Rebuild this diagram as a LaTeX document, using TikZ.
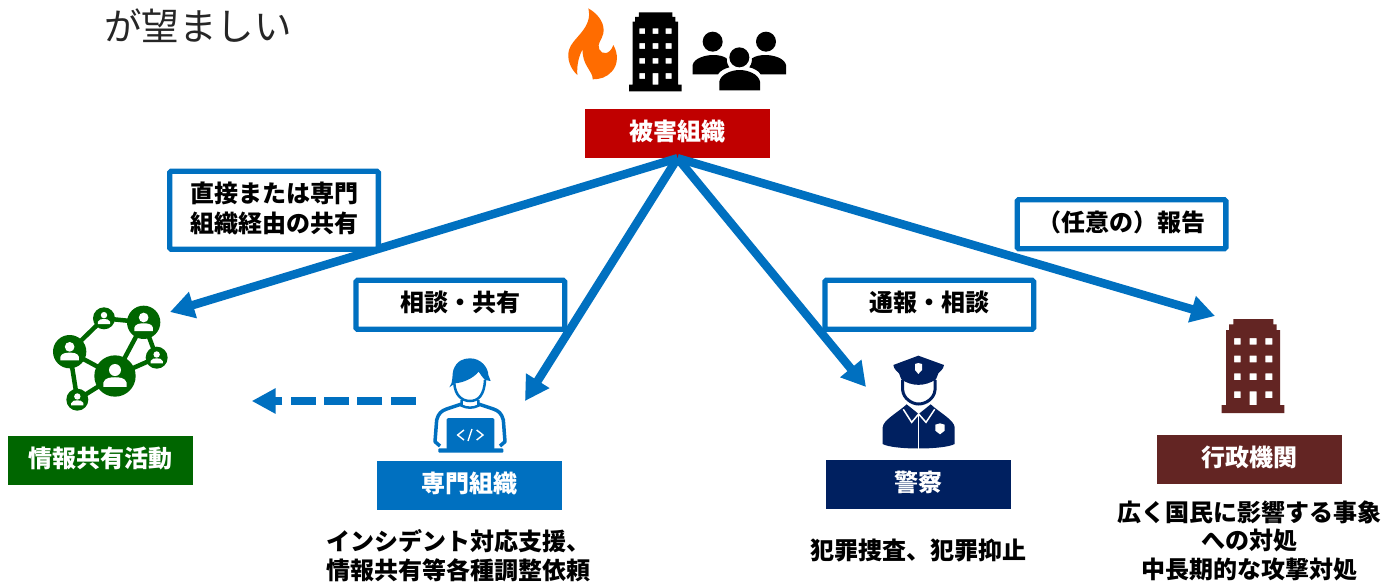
\documentclass[tikz,border=0pt]{standalone}
\usepackage{fontspec}
\setmainfont{Noto Sans CJK JP}
\usetikzlibrary{arrows.meta}
\definecolor{cblue}{RGB}{0,112,192}
\definecolor{cred}{RGB}{192,0,0}
\definecolor{cgreen}{RGB}{0,102,0}
\definecolor{cnavy}{RGB}{0,32,96}
\definecolor{cbrown}{RGB}{99,37,35}
\definecolor{corange}{RGB}{255,108,0}
\newcommand{\lift}[2][-1pt]{\raisebox{#1}[\height][\depth]{\begin{tabular}{@{}c@{}}#2\end{tabular}}}
\tikzset{
  orgbox/.style={fill=#1,text=white,minimum width=185pt,minimum height=49pt,inner sep=0pt,font=\fontsize{24}{28}\selectfont\bfseries},
  callout/.style={draw=cblue,line width=5.3pt,rounded corners=1.5pt,fill=white,minimum width=208.7pt,inner sep=0pt,align=center,text=black,font=\fontsize{24}{30}\selectfont\bfseries},
  caption/.style={inner sep=0pt,align=center,text=black,font=\fontsize{24}{28.5}\selectfont\bfseries},
  flow/.style={draw=cblue,line width=8.5pt,-{Triangle[length=24pt,width=26pt]}},
  inzoom/.style={x=0.33333pt,y=-0.33333pt}
}
% building drawn in the coordinates of a 3x crop
\newcommand{\bldgicon}[1]{%
  \fill[#1,even odd rule]
    (365,369)--(365,345)--(378,345)--(378,120)--(387,120)--(387,103)--(400,103)--(400,87)--(520,87)--(520,103)--(530,103)--(530,120)--(540,120)--(540,345)--(553,345)--(553,369)--cycle
    (402,144) rectangle (422,164) (449,144) rectangle (470,164) (496,144) rectangle (517,164)
    (402,197) rectangle (422,217) (449,197) rectangle (470,217) (496,197) rectangle (517,217)
    (402,250) rectangle (422,270) (449,250) rectangle (470,270) (496,250) rectangle (517,270)
    (402,304) rectangle (422,324) (449,304) rectangle (470,345) (496,304) rectangle (517,324);
}
\newcommand{\netperson}[3]{%
  \fill[cgreen] (#1,#2) circle [radius=#3];
  \fill[white] (#1,#2-0.29*#3) circle [radius=0.29*#3];
  \fill[white] (#1-0.56*#3,#2+0.52*#3) -- (#1-0.56*#3,#2+0.32*#3)
    .. controls (#1-0.5*#3,#2+0.08*#3) and (#1-0.2*#3,#2+0.06*#3) .. (#1,#2+0.06*#3)
    .. controls (#1+0.2*#3,#2+0.06*#3) and (#1+0.5*#3,#2+0.08*#3) .. (#1+0.56*#3,#2+0.32*#3)
    -- (#1+0.56*#3,#2+0.52*#3) -- cycle;
}
\begin{document}
\begin{tikzpicture}[x=1pt,y=-1pt]
\useasboundingbox (0,0) rectangle (1383,581);
\fill[white] (0,0) rectangle (1383,581);

% heading
\node[inner sep=0pt,text=black!85,font=\fontsize{37.5}{40}\selectfont] (head) at (198,26) {が望ましい};

% flame
\begin{scope}[shift={(550,0)},inzoom]
\fill[corange] (115,25) .. controls (150,45) and (165,75) .. (160,100)
  .. controls (156,120) and (140,130) .. (148,148)
  .. controls (155,165) and (180,165) .. (190,135)
  .. controls (205,160) and (205,195) .. (185,215)
  .. controls (170,232) and (150,238) .. (128,238)
  .. controls (130,215) and (95,195) .. (98,148)
  .. controls (85,170) and (80,200) .. (82,225)
  .. controls (60,205) and (50,175) .. (57,150)
  .. controls (65,115) and (130,85) .. (115,25) -- cycle;
\end{scope}
% building, black
\begin{scope}[shift={(526.8,-12)},x=0.2801pt,y=-0.2801pt]
\bldgicon{black}
\end{scope}
% people
\begin{scope}[shift={(550,0)},inzoom]
\fill[black] (488,125) circle [radius=30] (648,125) circle [radius=30] (568,172) circle [radius=30];
\fill[black] (428,223) -- (428,195) .. controls (432,175) and (465,165) .. (490,165)
  .. controls (505,165) and (520,168) .. (530,175) .. controls (530,190) and (535,198) .. (538,202)
  .. controls (525,205) and (510,212) .. (504,223) -- cycle;
\fill[black] (708,223) -- (708,195) .. controls (704,175) and (671,165) .. (646,165)
  .. controls (631,165) and (616,168) .. (606,175) .. controls (606,190) and (601,198) .. (598,202)
  .. controls (611,205) and (626,212) .. (632,223) -- cycle;
\fill[black] (508,271) -- (508,245) .. controls (512,222) and (545,210) .. (569,210)
  .. controls (593,210) and (626,222) .. (630,245) -- (630,271) -- cycle;
\end{scope}

% network
\begin{scope}[shift={(0,290)},inzoom]
\draw[cgreen,line width=4.5pt] (312,85)--(431,97) (312,85)--(209,185) (209,185)--(345,258)
  (209,185)--(232,329) (232,329)--(345,258) (345,258)--(431,97) (345,258)--(470,203) (431,97)--(470,203);
\netperson{345}{258}{62}
\netperson{209}{185}{50}
\netperson{431}{97}{50}
\netperson{312}{85}{33}
\netperson{470}{203}{33}
\netperson{232}{329}{33}
\end{scope}

% specialist with laptop
\begin{scope}[shift={(240,340)},inzoom]
\fill[cblue] (628,142) .. controls (640,130) and (636,100) .. (640,90)
  .. controls (650,62) and (670,55) .. (690,55)
  .. controls (725,55) and (745,85) .. (745,105) -- (752,123) -- (735,120)
  .. controls (728,112) and (722,105) .. (716,95)
  .. controls (700,115) and (670,128) .. (645,130) -- cycle;
\draw[cblue,line width=2.5pt] (643,130) .. controls (645,165) and (665,183) .. (690,183)
  .. controls (715,183) and (733,165) .. (735,120);
\draw[cblue,line width=2.5pt] (665,180) -- (665,197) .. controls (680,205) and (700,205) .. (715,197) -- (715,180);
\draw[cblue,line width=3.5pt,line join=round] (600,318) -- (585,305) -- (590,240) .. controls (595,220) and (605,212) .. (620,207) -- (665,192);
\draw[cblue,line width=3.5pt,line join=round] (780,318) -- (795,305) -- (790,240) .. controls (785,220) and (775,212) .. (760,207) -- (715,192);
\fill[cblue,rounded corners=1.5pt] (620,234) rectangle (763,330);
\fill[cblue,rounded corners=1pt] (595,325) rectangle (790,338);
\draw[white,line width=1.4pt] (672,270)--(653,285)--(672,300) (710,270)--(729,285)--(710,300) (696,267)--(684,303);
\end{scope}

% police officer
\begin{scope}[shift={(800,340)},inzoom]
\fill[cnavy] (280,75) -- (355,47) -- (432,75) .. controls (430,90) and (418,95) .. (415,100)
  -- (408,118) .. controls (375,140) and (335,140) .. (304,118) -- (297,100) .. controls (294,95) and (282,90) .. (280,75) -- cycle;
\fill[white] (345,72) -- (355,69) -- (366,72) -- (366,90) -- (355,102) -- (345,90) -- cycle;
\draw[cnavy,line width=3pt] (308,120) -- (308,150) .. controls (310,175) and (335,192) .. (356,192)
  .. controls (378,192) and (403,175) .. (405,150) -- (405,120);
\fill[cnavy] (248,312) -- (248,262) .. controls (250,240) and (290,220) .. (320,193)
  -- (356,222) -- (392,193) .. controls (422,220) and (462,240) .. (464,262) -- (464,312)
  .. controls (430,330) and (280,330) .. (248,312) -- cycle;
\draw[white,line width=1.5pt] (310,208) -- (335,247) -- (356,222) -- (378,247) -- (404,208);
\draw[white,line width=1.5pt] (356,222) -- (356,332);
\fill[white] (406,254) -- (420,250) -- (434,254) -- (434,272) -- (420,283) -- (406,272) -- cycle;
\end{scope}

% building, brown
\begin{scope}[shift={(1100,290)},inzoom]
\bldgicon{cbrown}
\end{scope}

% source box and the ends of the arrows
\node[orgbox=cred] (victim) at (677.5,133.5) {\lift{被害組織}};
\coordinate (shareEnd) at (170,312);
\coordinate (expertEnd) at (525,401);
\coordinate (policeEnd) at (866,387);
\coordinate (adminEnd) at (1215,316);
\coordinate (dashStart) at (415.7,401);
\coordinate (dashEnd) at (251.7,401);

\draw[flow] (victim.south) -- (shareEnd);
\draw[flow] (victim.south) -- (expertEnd);
\draw[flow] (victim.south) -- (policeEnd);
\draw[flow] (victim.south) -- (adminEnd);
\draw[draw=cblue,line width=7.3pt,dash pattern=on 25pt off 8.33pt,-{Triangle[length=24pt,width=24pt]}] (dashStart) -- (dashEnd);

% callouts
\node[callout,minimum height=78pt] (c1) at (274,210.3) {\lift{直接または専門\\組織経由の共有}};
\node[callout,minimum height=49pt] (c2) at (460.3,304.8) {\lift{相談・共有}};
\node[callout,minimum height=49pt] (c3) at (929.3,304.7) {\lift{通報・相談}};
\node[callout,minimum height=49pt] (c4) at (1121.5,224.2) {\lift{（任意の）報告}};

% organisation boxes
\node[orgbox=cgreen] (share) at (100.5,460.5) {\lift{情報共有活動}};
\node[orgbox=cblue] (expert) at (469.5,485.5) {\lift{専門組織}};
\node[orgbox=cnavy] (police) at (918.5,484.5) {\lift{警察}};
\node[orgbox=cbrown] (admin) at (1249.5,459.5) {\lift{行政機関}};

% captions
\node[caption] (t1) at (458.5,555.5) {インシデント対応支援、\\情報共有等各種調整依頼};
\node[caption] (t2) at (918,550) {犯罪捜査、犯罪抑止};
\node[caption] (t3) at (1249.5,540.5) {広く国民に影響する事象\\への対処\\中長期的な攻撃対処};
\end{tikzpicture}
\end{document}
